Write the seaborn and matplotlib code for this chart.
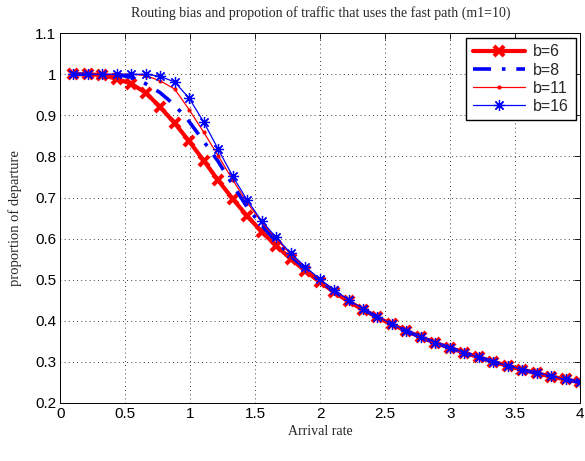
import numpy as np
import pandas as pd
import matplotlib
matplotlib.use("Agg")
import matplotlib.pyplot as plt
import seaborn as sns

# ---- data ----
arrival = [0.1, 0.211, 0.323, 0.434, 0.546, 0.657, 0.769, 0.880, 0.991, 1.103,
           1.214, 1.326, 1.437, 1.549, 1.660, 1.771, 1.883, 1.994, 2.106, 2.217,
           2.329, 2.440, 2.551, 2.663, 2.774, 2.886, 2.997, 3.109, 3.220, 3.331,
           3.443, 3.554, 3.666, 3.777, 3.889, 4.0]

b6 = [1.0, 1.0, 0.998, 0.989, 0.977, 0.955, 0.920, 0.881, 0.837, 0.790,
      0.742, 0.697, 0.655, 0.617, 0.583, 0.551, 0.522, 0.495, 0.470, 0.447,
      0.427, 0.408, 0.391, 0.375, 0.360, 0.346, 0.334, 0.322, 0.311, 0.300,
      0.290, 0.281, 0.272, 0.264, 0.257, 0.250]
b8 = [1.0, 1.0, 1.0, 0.999, 0.993, 0.977, 0.955, 0.925, 0.885, 0.837,
      0.788, 0.731, 0.677, 0.632, 0.594, 0.558, 0.527, 0.498, 0.472, 0.449,
      0.428, 0.409, 0.391, 0.375, 0.360, 0.346, 0.334, 0.322, 0.311, 0.300,
      0.290, 0.281, 0.272, 0.264, 0.257, 0.250]
b11 = [1.0, 1.0, 1.0, 1.0, 1.0, 0.997, 0.984, 0.964, 0.914, 0.859,
       0.802, 0.743, 0.688, 0.640, 0.600, 0.562, 0.530, 0.500, 0.474, 0.450,
       0.429, 0.410, 0.392, 0.376, 0.361, 0.347, 0.334, 0.322, 0.311, 0.300,
       0.290, 0.281, 0.273, 0.265, 0.257, 0.250]
b16 = [1.0, 1.0, 1.0, 1.0, 1.0, 1.0, 0.995, 0.981, 0.942, 0.884,
       0.818, 0.752, 0.694, 0.643, 0.603, 0.565, 0.532, 0.502, 0.475, 0.451,
       0.429, 0.410, 0.392, 0.376, 0.361, 0.347, 0.334, 0.322, 0.311, 0.300,
       0.290, 0.281, 0.273, 0.265, 0.257, 0.250]

labels = ["b=6", "b=8", "b=11", "b=16"]
xticks = [0, 0.5, 1, 1.5, 2, 2.5, 3, 3.5, 4]
yticks = [0.2, 0.3, 0.4, 0.5, 0.6, 0.7, 0.8, 0.9, 1.0, 1.1]
ytick_labels = ["0.2", "0.3", "0.4", "0.5", "0.6", "0.7", "0.8", "0.9", "1", "1.1"]

df = pd.DataFrame({
    "x": arrival * 4,
    "y": b6 + b8 + b11 + b16,
    "series": sum([[l] * len(arrival) for l in labels], []),
})

sns.set_theme(style="white")
plt.rcParams["font.family"] = ["Liberation Sans", "DejaVu Sans"]

fig = plt.figure(figsize=(5.85, 4.61), dpi=100)
ax = fig.add_axes([0.103, 0.126, 0.889, 0.802])

styles = {
    "b=6": dict(color="red", linestyle="-", linewidth=3.0, marker="x",
                markersize=6.5, markeredgewidth=3.0),
    "b=8": dict(color="blue", linestyle=(0, (5, 3, 1, 3)), linewidth=2.6,
                marker=None),
    "b=11": dict(color="red", linestyle="-", linewidth=0.9, marker=".",
                 markersize=4),
    "b=16": dict(color="blue", linestyle="-", linewidth=0.9, marker=(8, 2, 0),
                 markersize=8, markeredgewidth=0.9),
}

for lab in labels:
    sub = df[df["series"] == lab]
    st = styles[lab]
    sns.lineplot(data=sub, x="x", y="y", ax=ax, label=lab, color=st["color"],
                 linewidth=st["linewidth"], marker=st["marker"],
                 markersize=st.get("markersize", 6),
                 markeredgewidth=st.get("markeredgewidth", 1.0),
                 markeredgecolor=st["color"], sort=False, estimator=None)
    ax.lines[-1].set_linestyle(st["linestyle"])

ax.set_xlim(0, 4)
ax.set_ylim(0.2, 1.1)
ax.set_xticks(xticks)
ax.set_xticklabels([("%g" % v) for v in xticks])
ax.set_yticks(yticks)
ax.set_yticklabels(ytick_labels)
ax.tick_params(direction="in", top=True, right=True, length=4, width=0.6,
               labelsize=11, pad=3, colors="black")
ax.grid(True, linestyle=(0, (1, 4)), color="black", linewidth=0.6)
for sp in ax.spines.values():
    sp.set_visible(True)
    sp.set_color("black")
    sp.set_linewidth(0.7)

serif = ["Liberation Serif", "DejaVu Serif"]
ax.set_title("Routing bias and propotion of traffic that uses the fast path (m1=10)",
             fontsize=10, family=serif, pad=12)
ax.set_xlabel("Arrival rate", fontsize=10, family=serif, labelpad=3)
ax.set_ylabel("proportion of departure", fontsize=10.5, family=serif, labelpad=9)

leg = ax.legend(loc="upper right", fontsize=11.5, frameon=True, fancybox=False,
                edgecolor="black", framealpha=1, handlelength=3.3,
                borderaxespad=0.3, labelspacing=0.2, borderpad=0.4,
                handletextpad=0.5)
leg.get_frame().set_linewidth(1.0)

fig.savefig("out.png", dpi=100)
